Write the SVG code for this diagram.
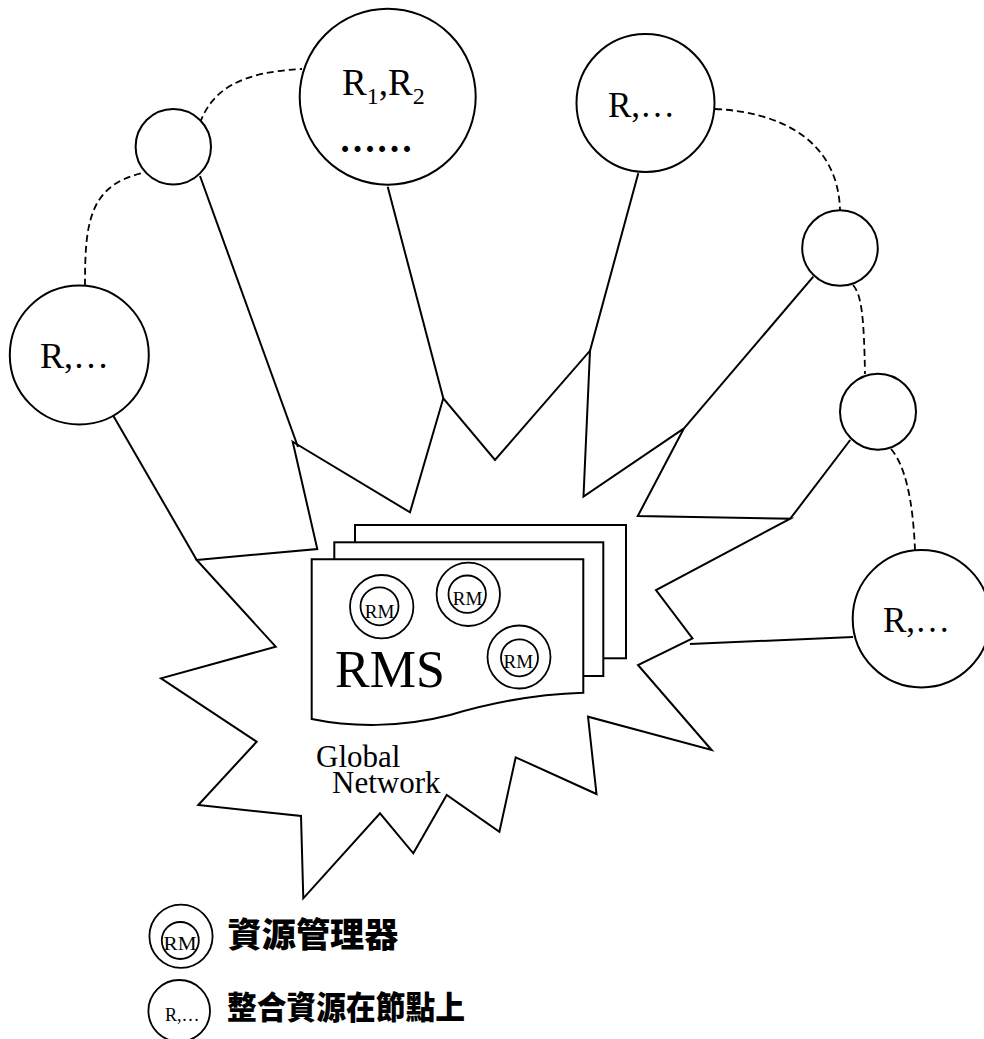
<svg xmlns="http://www.w3.org/2000/svg" width="984" height="1039" viewBox="0 0 984 1039">
  <style>
    .outline { fill: #fff; stroke: #000; stroke-width: 2; stroke-linejoin: miter; }
    .link { fill: none; stroke: #000; stroke-width: 2; }
    .dash { fill: none; stroke: #000; stroke-width: 1.8; stroke-dasharray: 7 4; }
    .node { fill: #fff; stroke: #000; stroke-width: 2; }
    .thin { fill: none; stroke: #000; stroke-width: 1.8; }
    .serif { font-family: "Liberation Serif", "Times New Roman", serif; fill: #000; }
    .cjk { font-family: "Noto Sans CJK TC", "Noto Sans CJK SC", sans-serif; font-weight: 900; fill: #000; }
  </style>

  <!-- global network burst -->
  <g id="global-network">
    <polygon class="outline" points="196.7,560 317.3,549 292.7,441.7 410,512.3 443.3,398.3 495,460 590,350.7 583.5,496.5 684,428.3 637.8,516 790.3,518.7 656,590 692.5,638.3 638,665 711.6,750 588,716.7 596.5,794 515.7,757.3 499.4,831.7 446.7,795 413.3,853.3 380,813.3 303.3,898.3 301,816 198.3,805 256.7,741.7 161,678.3 275.7,646.7"/>
    <text class="serif" font-size="31"><tspan x="316" y="767">Global</tspan><tspan x="332" y="793">Network</tspan></text>
  </g>

  <!-- connectors -->
  <g id="connectors">
    <line class="link" x1="111.7" y1="413" x2="196.7" y2="560"/>
    <line class="link" x1="200" y1="176" x2="298" y2="447"/>
    <line class="link" x1="387.7" y1="186.7" x2="443.3" y2="398.3"/>
    <line class="link" x1="638.3" y1="173.3" x2="590" y2="350.7"/>
    <line class="link" x1="813.3" y1="276.7" x2="684" y2="428.3"/>
    <line class="link" x1="850.2" y1="440" x2="790.3" y2="518.7"/>
    <line class="link" x1="853" y1="637" x2="690" y2="644"/>
    <path class="dash" d="M85,286 C85,225 88,185 143,173"/>
    <path class="dash" d="M200,123 C212,90 240,72 302,69"/>
    <path class="dash" d="M715,109 C780,112 838,140 840,210"/>
    <path class="dash" d="M853,285 C862,295 864,320 865,374"/>
    <path class="dash" d="M891,449 C905,465 913,500 915,550"/>
  </g>

  <!-- resource nodes -->
  <g id="node-left">
    <circle class="node" cx="79.3" cy="355" r="69.5"/>
    <text class="serif" x="40" y="368" font-size="36">R,…</text>
  </g>
  <g id="node-hop-left">
    <circle class="node" cx="173.3" cy="146.7" r="37.7"/>
  </g>
  <g id="node-top">
    <circle class="node" cx="387.7" cy="96.7" r="88"/>
    <text class="serif" x="342" y="95" font-size="37">R<tspan font-size="24" dy="9">1</tspan><tspan dy="-9">,R</tspan><tspan font-size="24" dy="9">2</tspan></text>
    <text class="serif" x="339" y="152" font-size="37" font-weight="bold">……</text>
  </g>
  <g id="node-top-right">
    <circle class="node" cx="645.5" cy="103" r="69"/>
    <text class="serif" x="608" y="116.7" font-size="35">R,…</text>
  </g>
  <g id="node-hop-right">
    <circle class="node" cx="840" cy="248" r="37.8"/>
  </g>
  <g id="node-hop-lower">
    <circle class="node" cx="878" cy="411.7" r="38"/>
  </g>
  <g id="node-right">
    <circle class="node" cx="921.4" cy="618.7" r="68.7"/>
    <text class="serif" x="883" y="631.7" font-size="35">R,…</text>
  </g>

  <!-- RMS document stack -->
  <g id="rms">
    <rect class="node" x="355" y="525" width="271" height="133.3"/>
    <rect class="node" x="334.3" y="542.3" width="269" height="133.7"/>
    <path class="node" d="M311.7,559.3 H583.3 V692.7 C540,694 500,700 450,715 C400,728 350,727 311.7,719 Z"/>
    <text class="serif" x="335" y="687" font-size="52">RMS</text>
  </g>
  <g id="rm-1">
    <circle class="thin" cx="381.7" cy="606.7" r="31.7"/>
    <circle class="thin" cx="379.5" cy="606.3" r="19"/>
    <text class="serif" x="379.5" y="617.5" font-size="19" text-anchor="middle">RM</text>
  </g>
  <g id="rm-2">
    <circle class="thin" cx="468.3" cy="594.3" r="31.7"/>
    <circle class="thin" cx="467.2" cy="594.2" r="18.7"/>
    <text class="serif" x="467.5" y="605" font-size="19" text-anchor="middle">RM</text>
  </g>
  <g id="rm-3">
    <circle class="thin" cx="519" cy="657" r="31.5"/>
    <circle class="thin" cx="519.5" cy="657.8" r="18.5"/>
    <text class="serif" x="518.3" y="668.3" font-size="19" text-anchor="middle">RM</text>
  </g>

  <!-- legend -->
  <g id="legend-rm">
    <circle class="thin" cx="181" cy="936.3" r="31.6"/>
    <circle class="thin" cx="180.3" cy="940.5" r="18.5"/>
    <text class="serif" x="180" y="950" font-size="19" text-anchor="middle" textLength="33" lengthAdjust="spacingAndGlyphs">RM</text>
    <text class="cjk" x="227.5" y="946.5" font-size="34" textLength="171" lengthAdjust="spacingAndGlyphs">資源管理器</text>
  </g>
  <g id="legend-node">
    <circle class="thin" cx="179.2" cy="1010.8" r="30.8"/>
    <text class="serif" x="165" y="1021" font-size="18">R,…</text>
    <text class="cjk" x="227" y="1018.5" font-size="32" textLength="238" lengthAdjust="spacingAndGlyphs">整合資源在節點上</text>
  </g>
</svg>
